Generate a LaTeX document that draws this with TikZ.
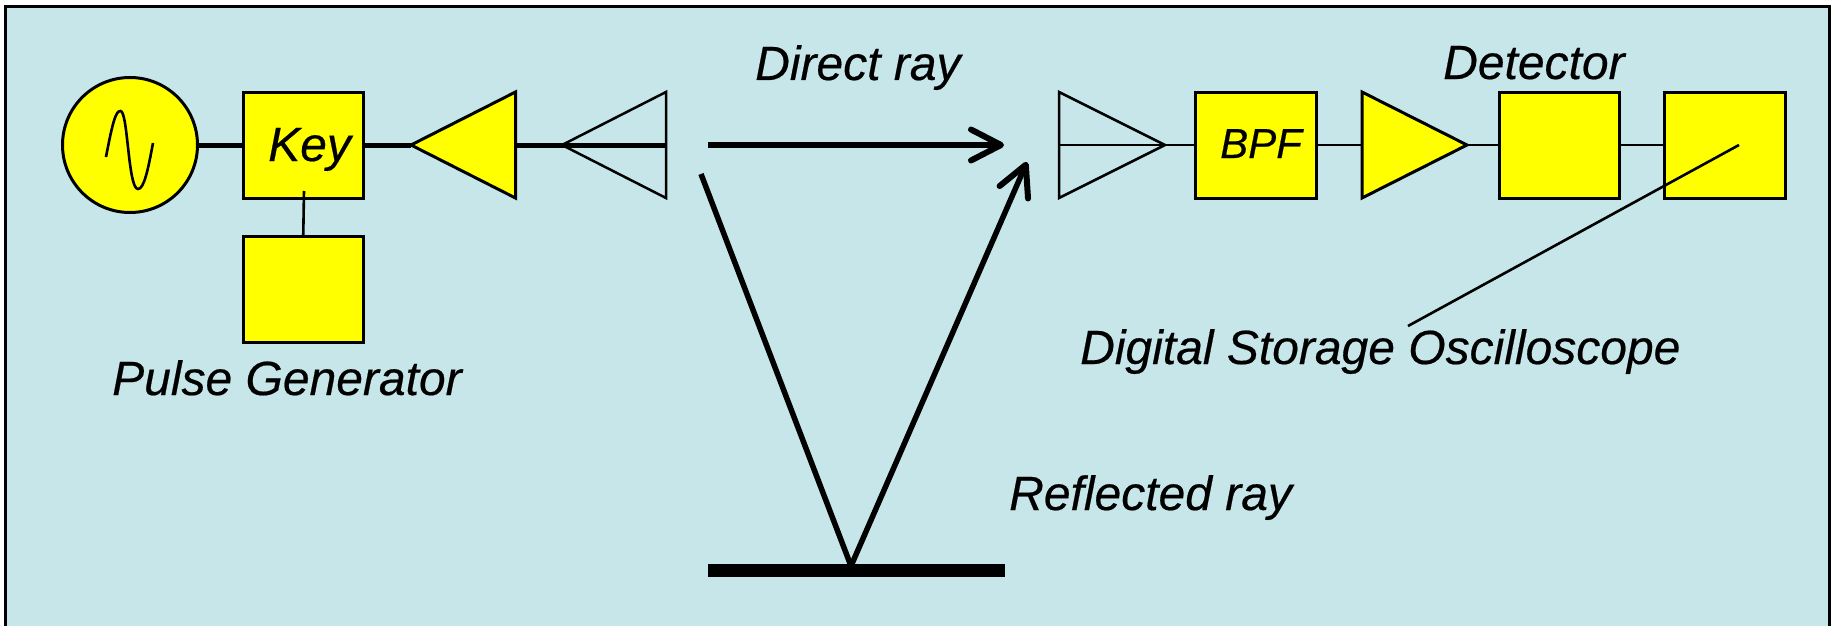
\documentclass[tikz,border=0pt]{standalone}
\usepackage{fontspec}
\setmainfont[ItalicFeatures={FakeBold=0.4}]{Liberation Sans}
\usetikzlibrary{arrows.meta}
\definecolor{bgblue}{HTML}{C6E6E9}
\definecolor{boxyellow}{HTML}{FFFF00}
\tikzset{
  x=1pt,y=-1pt,
  panel/.style={draw=black,line width=3pt,fill=bgblue},
  blockbox/.style={draw=black,line width=3pt,fill=boxyellow,inner sep=0pt,outer sep=0pt,anchor=north west},
  gencircle/.style={draw=black,line width=3pt,fill=boxyellow,circle,inner sep=0pt,outer sep=0pt,minimum size=135pt},
  amp/.style={draw=black,line width=3pt,fill=boxyellow,line join=miter},
  antenna/.style={draw=black,line width=2.5pt,line join=miter},
  thickwire/.style={draw=black,line width=5pt},
  thinwire/.style={draw=black,line width=2.6pt},
  ray/.style={draw=black,line width=5.5pt},
  rayarrow/.style={ray,-{Straight Barb[length=30pt,width=31pt,round,line width=6pt]}},
  lbl/.style={inner sep=0pt,anchor=base west,font=\fontsize{48}{54}\selectfont\itshape},
  lblsmall/.style={inner sep=0pt,anchor=base west,font=\fontsize{42}{48}\selectfont\itshape},
}
\begin{document}
\begin{tikzpicture}
\useasboundingbox (0,0) rectangle (1831,626);
\clip (0,0) rectangle (1831,626);
\draw[panel] (5.5,7) rectangle (1829,660);

% transmitter nodes and points
\node[gencircle] (gen) at (130,145) {};
\node[blockbox,minimum width=120.5pt,minimum height=106pt] (key) at (243,92) {};
\node[blockbox,minimum width=120.5pt,minimum height=106pt] (pulse) at (243,236) {};
\coordinate (txamptip) at (411,145);
\coordinate (txampbase) at (515.5,145);
\coordinate (txanttip) at (562,145);
\coordinate (txantbase) at (666,145);

\draw[thickwire] (gen.east) -- (key.west);
\draw[thickwire] (key.east) -- (txamptip);
\draw[thickwire] (txampbase) -- (txanttip);
\draw[thickwire] (txanttip) -- (txantbase);
\coordinate (keyinner) at (304,191);
\draw[thinwire] (keyinner) -- (pulse.north);

\draw[amp] (txamptip) -- (515.5,92) -- (515.5,198) -- cycle;
\draw[antenna] (txanttip) -- (666,92) -- (666,198) -- cycle;

% sine in the generator
\coordinate (sineA) at (106,157);
\coordinate (sineB) at (153,143);
\draw[thinwire,line cap=butt] (sineA) .. controls (113,120) and (116,111) .. (120.5,111)
  .. controls (128,111) and (128,189) .. (138,189)
  .. controls (144,189) and (148,170) .. (sineB);

% receiver nodes and points
\coordinate (rxantbase) at (1059,145);
\coordinate (rxanttip) at (1165,145);
\node[blockbox,minimum width=120.5pt,minimum height=106pt] (bpf) at (1195.5,92) {};
\coordinate (rxampbase) at (1362,145);
\coordinate (rxamptip) at (1467,145);
\node[blockbox,minimum width=120pt,minimum height=106pt] (det) at (1499,92) {};
\node[blockbox,minimum width=120.5pt,minimum height=106pt] (dso) at (1664.5,92) {};

\draw[thinwire] (rxantbase) -- (rxanttip);
\draw[thinwire] (rxanttip) -- (bpf.west);
\draw[thinwire] (bpf.east) -- (rxampbase);
\draw[thinwire] (rxamptip) -- (det.west);
\draw[thinwire] (det.east) -- (dso.west);

\draw[antenna] (rxanttip) -- (1059,92) -- (1059,198) -- cycle;
\draw[amp] (rxamptip) -- (1362,92) -- (1362,198) -- cycle;

% leader to the oscilloscope
\coordinate (dsopoint) at (1739,145);
\coordinate (dsolabelpt) at (1408,326);
\draw[thinwire] (dsopoint) -- (dsolabelpt);

% rays
\node[fill=black,inner sep=0pt,outer sep=0pt,minimum width=297pt,minimum height=13pt] (ground) at (856.5,570.5) {};
\coordinate (raystart) at (708,145);
\coordinate (rayend) at (1004,145);
\coordinate (reflstart) at (701,174);
\coordinate (reflpoint) at (851,566);
\coordinate (reflend) at (1027,162);
\draw[rayarrow] (raystart) -- (rayend);
\draw[ray] (reflstart) -- (reflpoint);
\draw[rayarrow] (reflpoint) -- (reflend);

% labels
\node[lbl] (lkey) at (268,161) {Key};
\node[lblsmall] (lbpf) at (1220,158) {BPF};
\node[lbl] (lpulse) at (112,395) {Pulse Generator};
\node[lbl] (ldirect) at (755,80) {Direct ray};
\node[lbl] (ldet) at (1443,79) {Detector};
\node[lbl] (ldso) at (1080,364) {Digital Storage Oscilloscope};
\node[lbl] (lrefl) at (1009,510) {Reflected ray};
\end{tikzpicture}
\end{document}
